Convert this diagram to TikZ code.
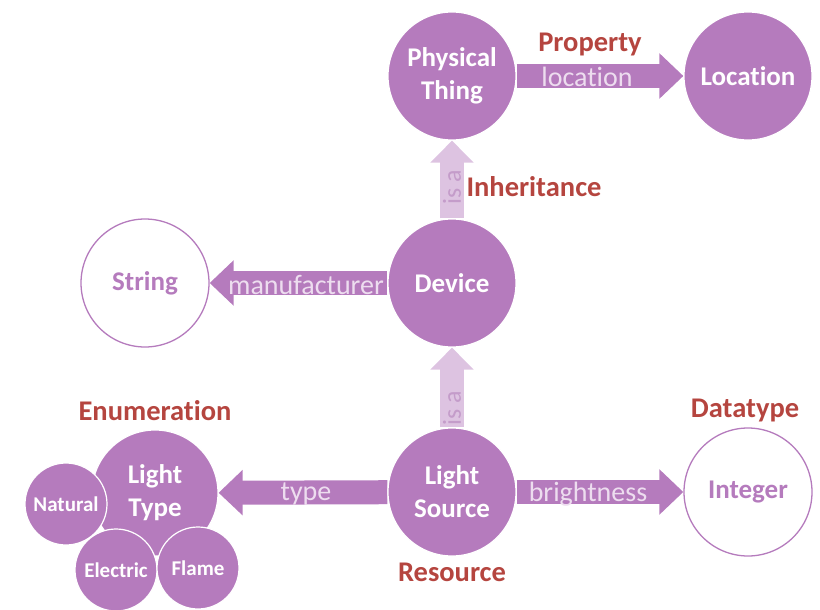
\documentclass[tikz,border=0pt]{standalone}
\usepackage{fontspec}
\setmainfont[Ligatures={NoCommon}]{Carlito}
\usetikzlibrary{arrows.meta,backgrounds}
\definecolor{pur}{HTML}{B57BBD}
\definecolor{lav}{HTML}{DDC3E1}
\definecolor{lbl}{HTML}{EDDDEF}
\definecolor{isatxt}{HTML}{C49CCA}
\definecolor{redlbl}{HTML}{B5453F}
\begin{document}
\begin{tikzpicture}[x=1pt,y=-1pt,
 cls/.style={circle,fill=pur,draw=white,line width=1.2pt,minimum size=128pt,inner sep=0pt,align=center,text=white,font=\bfseries\fontsize{27}{33}\selectfont},
 lit/.style={circle,fill=white,draw=pur,line width=1.3pt,minimum size=128pt,inner sep=0pt,text=pur,font=\bfseries\fontsize{27}{33}\selectfont},
 smallc/.style={circle,fill=pur,draw=white,line width=1.2pt,minimum size=82pt,inner sep=0pt,text=white,font=\bfseries\fontsize{21}{24}\selectfont},
 rel/.style={draw=pur,line width=24pt,-{Triangle[length=24pt 0 0,width=44pt 0 0]}},
 isa/.style={draw=lav,line width=24pt,-{Triangle[length=22pt 0 0,width=42pt 0 0]}},
 rlbl/.style={text=lbl,inner sep=0pt,font=\fontsize{28}{30}\selectfont},
 isalbl/.style={text=isatxt,inner sep=0pt,rotate=90,font=\fontsize{26}{28}\selectfont},
 cat/.style={text=redlbl,inner sep=0pt,font=\bfseries\fontsize{28.5}{30}\selectfont},
]
\useasboundingbox (0,0) rectangle (820,610);

\node[cls] (pt) at (452,76) {Physical\\Thing};
\node[cls] (loc) at (748,76) {Location};
\node[cls] (dev) at (452,283) {Device};
\node[lit] (str) at (145,283) {String};
\node[cls] (ls) at (452,492) {Light\\Source};
\node[lit] (int) at (748,492) {Integer};
\node[cls,minimum size=126pt] (lt) at (155,493) {Light\\Type};
\node[smallc] (nat) at (66,504) {Natural};
\node[smallc] (ele) at (116,570) {Electric};
\node[smallc] (fla) at (198,568) {Flame};

\begin{scope}[on background layer]
\draw[rel] (pt) -- (loc);
\draw[isa] (dev) -- (pt);
\draw[rel] (dev) -- (str);
\draw[isa] (ls) -- (dev);
\draw[rel] (ls) -- (lt);
\draw[rel] (ls) -- (int);
\end{scope}

\node[rlbl] (l1) at (587,77) {location};
\node[rlbl] (l2) at (306,285) {manufacturer};
\node[rlbl] (l3) at (306,494) {type};
\node[rlbl] (l4) at (588,494) {brightness};
\node[isalbl] (l5) at (452,187) {is a};
\node[isalbl] (l6) at (452,408) {is a};

\node[cat] (c1) at (590,45) {Property};
\node[cat] (c2) at (534,187) {Inheritance};
\node[cat] (c3) at (155,411) {Enumeration};
\node[cat] (c4) at (745,410) {Datatype};
\node[cat] (c5) at (452,572) {Resource};
\end{tikzpicture}
\end{document}
